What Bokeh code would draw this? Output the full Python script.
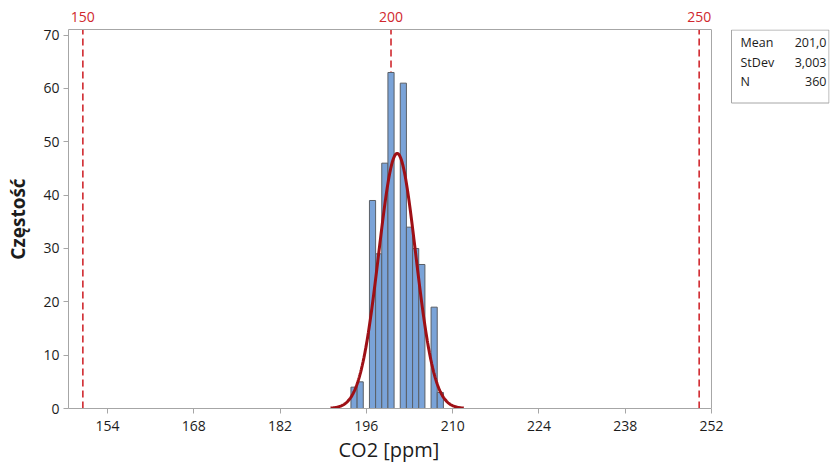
import numpy as np
from bokeh.plotting import figure
from bokeh.models import Range1d, FixedTicker, LinearAxis, ColumnDataSource, Span, Title
from bokeh.embed import file_html
from bokeh.resources import INLINE
from bokeh.core.properties import value

# ---- data ----
bin_centers = [194, 195, 196, 197, 198, 199, 200, 201, 202, 203, 204, 205, 206, 207, 208]
counts = [4, 5, 0, 39, 29, 46, 63, 0, 61, 34, 30, 27, 0, 19, 3]
bin_width = 1.0
mean = 201.0
stdev = 3.003
n_obs = 360
spec_limits = [150, 200, 250]
x_ticks = [154, 168, 182, 196, 210, 224, 238, 252]
y_ticks = [0, 10, 20, 30, 40, 50, 60, 70]
stats_names = ["Mean", "StDev", "N"]
stats_values = ["201,0", "3,003", "360"]

# ---- layout ----
FONT = "Open Sans"
W, H = 831, 465
BL, BR, BT, BB = 68, 2, 29, 57
X0, X_AX_END = 147.67, 252.0
Y0, Y1 = 0.0, 71.06
FRAME_W = W - BL - BR
FRAME_H = H - BT - BB
SX = 6.163  # px per unit
X1 = X0 + FRAME_W / SX
SY = FRAME_H / (Y1 - Y0)
PAGE_L, PAGE_B = BL, BT + FRAME_H

def xd(px):
    return X0 + (px - PAGE_L) / SX

def yd(py):
    return (PAGE_B - py) / SY

GREY = "#a6a6a6"
TXT = "#1c1c1c"
RED = "#d0282e"

p = figure(width=W, height=H, output_backend="svg", toolbar_location=None,
           x_range=Range1d(X0, X1), y_range=Range1d(Y0, Y1),
           min_border_left=BL, min_border_right=BR, min_border_top=BT,
           min_border_bottom=BB, background_fill_color="white",
           border_fill_color="white")
p.outline_line_color = None
p.xgrid.visible = False
p.ygrid.visible = False

# bottom axis
xa = p.xaxis[0]
xa.ticker = FixedTicker(ticks=x_ticks)
xa.bounds = (X0, X_AX_END)
xa.major_label_text_font = FONT
xa.major_label_text_font_size = "14px"
xa.major_label_text_color = TXT
xa.major_label_standoff = 7
xa.axis_line_color = GREY
xa.major_tick_line_color = GREY
xa.major_tick_in = 0
xa.major_tick_out = 5
xa.minor_tick_line_color = None

# x axis title, centred under the histogram area (not the stats box)
xt = Title(text="CO2 [ppm]", align="left", offset=270, standoff=0,
           text_font=FONT, text_font_size="20px", text_font_style="normal",
           text_color=TXT)
p.add_layout(xt, "below")

# left axis
ya = p.yaxis[0]
ya.ticker = FixedTicker(ticks=y_ticks)
ya.axis_label = "Częstość"
ya.axis_label_text_font = FONT
ya.axis_label_text_font_size = "19px"
ya.axis_label_text_font_style = "bold"
ya.axis_label_text_color = TXT
ya.axis_label_standoff = 9
ya.major_label_text_font = FONT
ya.major_label_text_font_size = "14px"
ya.major_label_text_color = TXT
ya.major_label_standoff = 4
ya.axis_line_color = GREY
ya.major_tick_line_color = GREY
ya.major_tick_in = 0
ya.major_tick_out = 5
ya.minor_tick_line_color = None

# top axis with spec-limit labels
ta = LinearAxis(ticker=FixedTicker(ticks=spec_limits), bounds=(X0, X_AX_END))
ta.axis_line_color = GREY
ta.major_tick_line_color = None
ta.minor_tick_line_color = None
ta.major_label_text_font = FONT
ta.major_label_text_font_size = "14px"
ta.major_label_text_color = RED
ta.major_label_standoff = 2
p.add_layout(ta, "above")

# right frame border
p.add_layout(Span(location=X_AX_END, dimension="height", line_color=GREY, line_width=1))

# spec limit lines (under bars)
p.segment(x0=spec_limits, y0=[Y0] * len(spec_limits), x1=spec_limits,
          y1=[Y1] * len(spec_limits), line_color=RED, line_width=1.6, line_dash="7 4")

# histogram bars
bars = [(c, v) for c, v in zip(bin_centers, counts) if v > 0]
src = ColumnDataSource(dict(
    left=[c - bin_width / 2 for c, _ in bars],
    right=[c + bin_width / 2 for c, _ in bars],
    top=[v for _, v in bars],
    bottom=[0] * len(bars)))
p.quad(left="left", right="right", top="top", bottom="bottom", source=src,
       fill_color="#7aa3d8", line_color="#5a5f66", line_width=1)

# fitted normal curve
xs = np.linspace(mean - 3.6 * stdev, mean + 3.6 * stdev, 300)
ys = n_obs * bin_width / (stdev * np.sqrt(2 * np.pi)) * np.exp(-0.5 * ((xs - mean) / stdev) ** 2)
p.line(xs, ys, line_color="#9e1016", line_width=3)

# stats box
p.quad(left=[xd(731)], right=[xd(828.5)], top=[yd(29.5)], bottom=[yd(102.5)],
       fill_color="white", line_color=GREY, line_width=1)
rows_y = [yd(42), yd(61.5), yd(81)]
p.text(x=[xd(740)] * 3, y=rows_y, text=stats_names, text_font=value(FONT),
       text_font_size="12.5px", text_color=TXT, text_baseline="middle", text_align="left")
p.text(x=[xd(826)] * 3, y=rows_y, text=stats_values, text_font=value(FONT),
       text_font_size="12.5px", text_color=TXT, text_baseline="middle", text_align="right")

open("out.html", "w").write(file_html(p, INLINE))
